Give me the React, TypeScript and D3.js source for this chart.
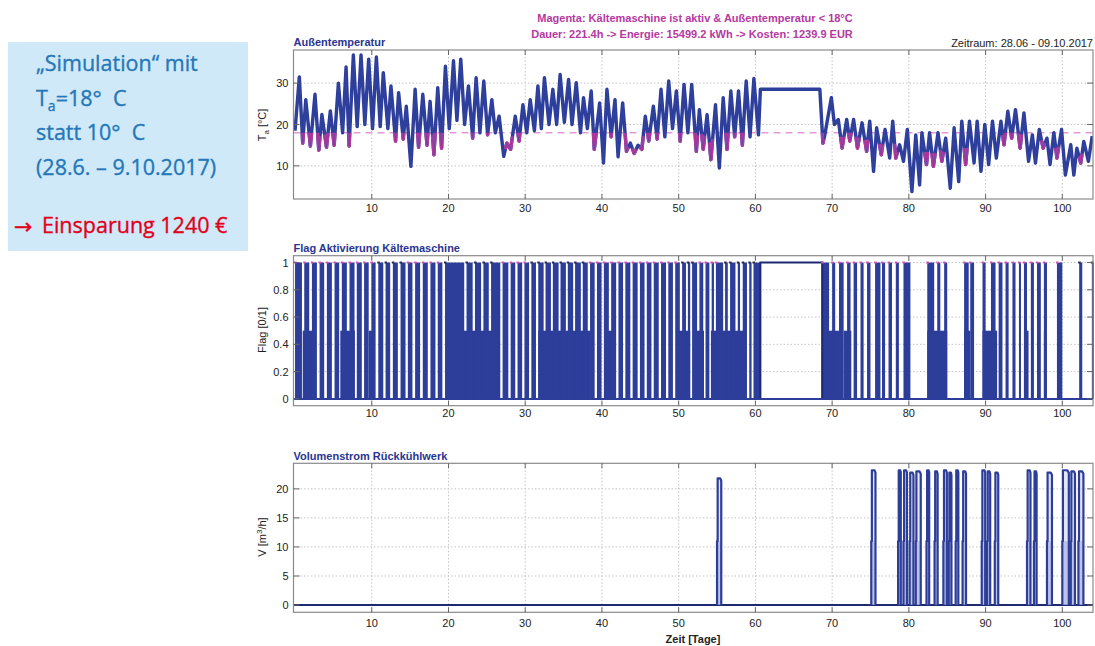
import React from "react";
import * as d3 from "d3";

// ---------- DATA ----------
const tempDays = [
  0.0, 0.56, 1.0, 1.4, 2.0, 2.6, 3.1, 3.5, 4.1, 4.6, 5.1, 5.65, 6.2, 6.65, 7.05, 7.6, 8.1, 8.6, 9.1, 9.6,
  10.1, 10.6, 11.1, 11.5, 12.1, 12.5, 13.1, 13.5, 14.1, 14.5, 15.1, 15.65, 16.1, 16.65, 17.2, 17.6, 18.1, 18.6, 19.1, 19.6,
  20.1, 20.65, 21.1, 21.6, 22.1, 22.6, 23.15, 23.6, 24.1, 24.6, 25.1, 25.65,
  26.1, 26.6, 27.2, 27.6, 28.1, 28.7, 29.2, 29.7, 30.2, 30.65, 31.2, 31.65, 32.1, 32.5, 33.1, 33.6, 34.1, 34.55,
  35.1, 35.65, 36.1, 36.65, 37.2, 37.6, 38.1, 38.6, 39.0, 39.7, 40.2, 40.65, 41.2, 41.7, 42.1, 42.7, 43.2, 43.7,
  44.2, 44.7, 45.2, 45.65, 46.1, 46.7, 47.2, 47.7, 48.2, 48.7, 49.2, 49.7, 50.2, 50.7, 51.2, 51.7,
  52.3, 52.7, 53.2, 53.7, 54.2, 54.8, 55.3, 55.8, 56.3, 56.8, 57.3, 57.8, 58.3, 58.8, 59.3, 59.8, 60.4, 60.65,
  68.4, 68.8, 69.0, 69.9, 70.3, 70.8, 71.3, 71.9, 72.3, 72.8, 73.3, 73.9, 74.5, 74.9, 75.4, 75.8, 76.4, 76.9, 77.5, 77.9,
  78.3, 78.8, 79.3, 79.8, 80.4, 80.9, 81.4, 81.7, 82.3, 82.7, 83.2, 83.8, 84.3, 84.8, 85.4, 85.9, 86.5, 86.9, 87.4, 87.9,
  88.5, 88.9, 89.4, 89.9, 90.4, 90.9, 91.4, 92.0, 92.4, 92.9, 93.4, 93.9, 94.5, 95.0, 95.6, 96.1, 96.5, 97.0, 97.5, 98.0,
  98.4, 98.9, 99.3, 99.9, 100.4, 101.1, 101.5, 101.9, 102.4, 102.8, 103.4, 103.9,
];
const tempVals = [
  18.5, 31.5, 15.5, 26, 14.8, 27.3, 13.8, 22.4, 14.5, 23.3, 15, 30, 18, 33.9, 14.8, 36.8, 19.5, 36.8, 20, 35.8,
  19, 36.3, 19.5, 32.5, 19, 29.3, 16, 27.7, 16.5, 24.4, 9.9, 28.5, 14.5, 27.3, 15, 25.6, 12.7, 28.9, 14.3, 34.1,
  19, 35.4, 21, 35.8, 20, 29.3, 16.7, 31.3, 18, 30.5, 17.5, 26,
  18, 22, 12.3, 15.5, 14, 22, 16, 24.8, 18, 26, 18.5, 29.3, 19, 31.3, 20, 28.5, 20, 32.1,
  20.5, 30.9, 20, 30.1, 18, 26.5, 19, 28.1, 14, 25.2, 10.7, 28.5, 17, 26, 12.2, 25.2, 13.5, 15.5,
  13, 15, 14, 22, 16, 24.4, 16.5, 28.5, 17, 30.5, 19, 28.1, 16, 29.7, 18, 29.7,
  13.5, 23.6, 14, 22.4, 11.5, 24.8, 9.5, 26.5, 14, 28.1, 17, 28.1, 15, 30.5, 17, 31.1, 17.5, 28.5,
  28.5, 15.5, 17, 26.5, 20, 21.2, 14.3, 21.2, 16, 21.2, 14.3, 20.4, 13.5, 20.8, 8.7, 19.2, 12.7, 18.8, 11.9, 20.8,
  11.9, 15.1, 11.1, 18.8, 3.8, 17.5, 5.4, 18, 10.3, 18, 9.9, 18, 11.1, 16.7, 4.6, 19.2, 6.2, 20.8, 10.3, 20.8,
  10.7, 20.8, 8.7, 20, 10.3, 20.8, 11.9, 20.8, 15.1, 23.2, 16.7, 23.6, 14.3, 22.8, 11.1, 17.5, 10.7, 18.8, 14.3, 16.7,
  10.3, 18, 11.9, 18.8, 7.8, 15.1, 7.8, 14.3, 10.7, 15.9, 11.1, 17.2,
];
const magentaTroughDays = [
  1.0, 2.0, 3.1, 4.1, 5.1, 7.05, 13.1, 14.1, 16.1, 17.2, 18.1, 19.1, 23.15, 25.1, 27.6, 28.1, 29.2,
  39.0, 41.2, 43.2, 44.2, 45.2, 46.1, 47.2, 50.2, 52.3, 53.2, 54.2, 56.3, 57.3, 58.3,
  68.8, 71.3, 72.3, 73.3, 74.5, 76.4, 78.3, 82.3, 83.2, 84.3, 87.4, 92.4, 93.4, 94.5, 97.5, 99.3, 102.4,
];
const tempThreshold = 18;

const flagOnStart = [
  0.0, 1.2, 2.2, 3.2, 4.15, 5.15, 6.1, 7.1, 8.05, 9.0, 9.95, 10.85, 11.8, 12.75, 13.75, 14.7, 15.65, 16.65, 17.65, 18.6,
  19.55, 22.35, 23.45, 24.55, 25.55, 27.05, 28.1, 29.0, 29.9, 30.8, 31.7, 32.65, 33.6, 34.6, 35.55, 36.5, 37.5, 38.45, 39.35,
  40.25, 41.2, 42.15, 43.05, 44.0, 44.95, 45.85, 46.75, 47.7, 48.65, 49.55, 50.45, 51.2, 51.75, 52.7, 53.5, 54.3, 54.85,
  56.05, 56.7, 57.7, 58.35, 59.2, 59.75,
  68.7, 70.0, 70.9, 71.95, 72.8, 73.7, 74.55, 75.6, 76.5, 77.35, 78.3, 79.3, 82.4, 83.7, 84.6, 87.2, 88.0, 89.6, 90.7,
  91.7, 92.6, 93.5, 94.35, 95.0, 95.9, 96.7, 97.6, 99.3, 102.2, 103.85,
];
const flagOnEnd = [
  0.9, 1.85, 2.85, 3.8, 4.8, 5.75, 6.75, 7.75, 8.7, 9.6, 10.5, 11.5, 12.4, 13.4, 14.4, 15.3, 16.3, 17.3, 18.3, 19.2,
  22.05, 23.15, 24.25, 25.25, 26.75, 27.8, 28.7, 29.6, 30.5, 31.4, 32.4, 33.35, 34.35, 35.3, 36.25, 37.25, 38.15, 39.05, 39.95,
  40.9, 41.85, 42.75, 43.7, 44.65, 45.55, 46.45, 47.4, 48.35, 49.25, 50.15, 50.95, 51.5, 52.4, 53.2, 54.0, 54.6, 55.8,
  56.4, 57.4, 58.0, 58.9, 59.5, 60.65,
  69.6, 70.4, 71.5, 72.4, 73.25, 74.1, 75.0, 76.3, 76.9, 77.8, 78.7, 80.2, 83.3, 84.1, 85.0, 87.8, 88.5, 90.0, 91.3,
  92.2, 93.0, 93.9, 94.6, 95.4, 96.3, 97.2, 98.0, 100.0, 102.6, 104.0,
];
const flagHalfStart = [1.0, 5.9, 9.6, 20.2, 31.7, 40.5, 49.8, 51.9, 54.2, 69.4, 71.5, 82.4, 87.2, 89.6, 95.0, 97.6];
const flagHalfEnd = [2.4, 7.8, 10.2, 26.5, 38.5, 41.5, 51.5, 53.3, 58.5, 71.0, 72.5, 85.0, 88.0, 91.5, 95.6, 97.9];
const flagSteadyStart = 60.65;
const flagSteadyEnd = 68.7;
const flagMagentaFrom = [0, 14, 26, 38, 52, 68.5, 82, 87];
const flagMagentaTo = [10, 19.5, 30, 50, 55.5, 80.5, 85.5, 99.5];

const vStart = [55.0, 75.1, 78.6, 79.3, 80.1, 80.9, 82.3, 83.35, 84.5, 85.2, 86.1, 87.0, 89.5, 90.2, 91.2, 95.4, 96.3, 98.0, 100.0, 101.1, 102.1];
const vEnd = [55.6, 75.7, 79.0, 79.8, 80.65, 81.6, 82.7, 83.8, 85.0, 85.6, 86.5, 87.5, 90.0, 90.65, 91.7, 95.9, 96.7, 98.7, 100.9, 101.7, 102.8];
const vPeak = [21.8, 23.2, 23.2, 23.2, 22.8, 23.0, 23.2, 23.0, 23.2, 22.8, 23.2, 23.0, 23.2, 23.0, 22.8, 23.2, 23.0, 22.8, 23.2, 23.0, 23.0];
const vStep = 11;

const xTicks = [10, 20, 30, 40, 50, 60, 70, 80, 90, 100];
const tempTicks = [10, 20, 30];
const flagTicks = [0, 0.2, 0.4, 0.6, 0.8, 1];
const flagTickLabels = ["0", "0.2", "0.4", "0.6", "0.8", "1"];
const vTicks = [0, 5, 10, 15, 20];

// ---------- STYLE ----------
const BLUE = "#2c3d9a";
const MAGENTA = "#b5399f";
const TITLE_BLUE = "#2a3590";
const BOX_BLUE = "#2577b9";
const CHART_FONT = "'Liberation Sans', Arial, sans-serif";
const BOX_FONT = "'Open Sans', 'Noto Sans', sans-serif";

const X0 = 293.5;
const X1 = 1093;
const x = d3.scaleLinear().domain([-0.2, 104]).range([X0, X1]);

const yT = d3.scaleLinear().domain([2, 38]).range([199, 50]);
const yF = d3.scaleLinear().domain([-0.05, 1.05]).range([405.7, 255.7]);
const yV = d3.scaleLinear().domain([-1.25, 24.4]).range([612.3, 463.3]);

function Grid({ y, ticks }: { y: d3.ScaleLinear<number, number>; ticks: number[] }) {
  const [b, t] = y.range();
  return (
    <g>
      <rect x={X0} y={t} width={X1 - X0} height={b - t} fill="#fff" />
      {xTicks.map((v) => (
        <line key={"gx" + v} x1={x(v)} x2={x(v)} y1={t} y2={b} stroke="#c4c4c4" strokeDasharray="1.5 2" />
      ))}
      {ticks.map((v) => (
        <line key={"gy" + v} x1={X0} x2={X1} y1={y(v)} y2={y(v)} stroke="#c4c4c4" strokeDasharray="1.5 2" />
      ))}
    </g>
  );
}

function Axes({ y, ticks, labels, xLabelY }: { y: d3.ScaleLinear<number, number>; ticks: number[]; labels: string[]; xLabelY: number }) {
  const [b, t] = y.range();
  return (
    <g fontFamily={CHART_FONT} fontSize={11} fill="#222">
      <rect x={X0} y={t} width={X1 - X0} height={b - t} fill="none" stroke="#8a8a8a" strokeWidth={1.2} />
      {xTicks.map((v) => (
        <g key={"tx" + v}>
          <line x1={x(v)} x2={x(v)} y1={b} y2={b - 5} stroke="#666" />
          <line x1={x(v)} x2={x(v)} y1={t} y2={t + 5} stroke="#666" />
          <text x={x(v)} y={xLabelY} textAnchor="middle">{v}</text>
        </g>
      ))}
      {ticks.map((v, i) => (
        <g key={"ty" + v}>
          <line x1={X0} x2={X0 + 6} y1={y(v)} y2={y(v)} stroke="#666" />
          <line x1={X1} x2={X1 - 6} y1={y(v)} y2={y(v)} stroke="#666" />
          <text x={X0 - 5} y={y(v) + 4} textAnchor="end">{labels[i]}</text>
        </g>
      ))}
    </g>
  );
}

export default function App() {
  const tempPts: [number, number][] = tempDays.map((d, i) => [d, tempVals[i]]);
  const line = d3.line<[number, number]>().x((d) => x(d[0])).y((d) => yT(d[1]));
  const tempPath = line(tempPts) || "";
  const frac = 0.35;
  const magentaPaths = magentaTroughDays
    .map((d) => tempDays.indexOf(d))
    .filter((i) => i > 0 && i < tempPts.length - 1)
    .map((i) => {
      const p = tempPts[i - 1], c = tempPts[i], n = tempPts[i + 1];
      const a: [number, number] = [c[0] + (p[0] - c[0]) * frac, c[1] + (p[1] - c[1]) * frac];
      const z: [number, number] = [c[0] + (n[0] - c[0]) * frac, c[1] + (n[1] - c[1]) * frac];
      return line([a, c, z]) || "";
    });

  const yTop = yF(1);
  const y0 = yF(0);
  const yHalf = yF(0.5);

  const vLine = d3.line<[number, number]>().x((d) => x(d[0])).y((d) => yV(d[1]));
  const pre = { whiteSpace: "pre" as const };

  return (
    <svg width={1095} height={646} style={{ position: "absolute", left: 0, top: 0, display: "block" }}>
      <rect width={1095} height={646} fill="#fff" />
      <defs>
        <clipPath id="below18">
          <rect x={X0} y={yT(tempThreshold)} width={X1 - X0} height={199 - yT(tempThreshold)} />
        </clipPath>
        <clipPath id="p1">
          <rect x={X0} y={50} width={X1 - X0} height={149} />
        </clipPath>
      </defs>

      {/* Left info box */}
      <rect x={8} y={42} width={240} height={209} fill="#cfe9f8" />
      <g fontFamily={BOX_FONT} fontSize={21.5} fill={BOX_BLUE} stroke={BOX_BLUE} strokeWidth={0.35}>
        <text x={36} y={71} style={pre}>„Simulation“ mit</text>
        <text x={36} y={106} style={pre}>
          T<tspan fontSize={14} dy={5}>a</tspan>
          <tspan dy={-5}>=18°  C</tspan>
        </text>
        <text x={36} y={140} style={pre}>statt 10°  C</text>
        <text x={36} y={175} style={pre}>(28.6. – 9.10.2017)</text>
        <text x={14} y={234} fill="#e2001a" stroke="#e2001a" fontSize={22} fontFamily="'DejaVu Sans', sans-serif">→</text>
        <text x={42} y={233} fill="#e2001a" stroke="#e2001a">Einsparung 1240 €</text>
      </g>

      {/* Header texts */}
      <g fontFamily={CHART_FONT} fontSize={11}>
        <text x={695} y={22} textAnchor="middle" fill={MAGENTA} fontWeight="bold">Magenta: Kältemaschine ist aktiv &amp; Außentemperatur &lt; 18°C</text>
        <text x={692} y={38} textAnchor="middle" fill={MAGENTA} fontWeight="bold">Dauer: 221.4h -&gt; Energie: 15499.2 kWh -&gt; Kosten: 1239.9 EUR</text>
        <text x={1093} y={47} textAnchor="end" fill="#222">Zeitraum: 28.06 - 09.10.2017</text>
        <text x={X0} y={46} fill={TITLE_BLUE} fontWeight="bold">Außentemperatur</text>
        <text x={X0} y={252} fill={TITLE_BLUE} fontWeight="bold">Flag Aktivierung Kältemaschine</text>
        <text x={X0} y={460} fill={TITLE_BLUE} fontWeight="bold">Volumenstrom Rückkühlwerk</text>
        <text x={693} y={643} textAnchor="middle" fill="#222" fontWeight="bold">Zeit [Tage]</text>
      </g>

      {/* Y axis labels */}
      <g fontFamily={CHART_FONT} fontSize={11} fill="#222">
        <text transform="translate(266,125) rotate(-90)" textAnchor="middle">
          T<tspan fontSize={8} dy={3}>a</tspan><tspan dy={-3}> [°C]</tspan>
        </text>
        <text transform="translate(266,330) rotate(-90)" textAnchor="middle">Flag [0/1]</text>
        <text transform="translate(266,537) rotate(-90)" textAnchor="middle">
          V [m<tspan fontSize={8} dy={-4}>3</tspan><tspan dy={4}>/h]</tspan>
        </text>
      </g>

      {/* Panel 1: temperature */}
      <Grid y={yT} ticks={tempTicks} />
      <line x1={X0} x2={X1} y1={yT(tempThreshold)} y2={yT(tempThreshold)} stroke="#e49ad8" strokeWidth={1.5} strokeDasharray="7 5" />
      <g clipPath="url(#p1)">
        <path d={tempPath} fill="none" stroke={BLUE} strokeWidth={3.4} strokeLinejoin="round" />
        <g clipPath="url(#below18)">
          {magentaPaths.map((p, i) => (
            <path key={i} d={p} fill="none" stroke={MAGENTA} strokeWidth={3.4} strokeLinejoin="round" strokeLinecap="round" />
          ))}
        </g>
        <path d={tempPath} fill="none" stroke="#3a4aa8" strokeWidth={1} strokeLinejoin="round" opacity={0.4} />
      </g>
      <Axes y={yT} ticks={tempTicks} labels={tempTicks.map(String)} xLabelY={212} />

      {/* Panel 2: flag */}
      <Grid y={yF} ticks={flagTicks} />
      <g>
        {flagHalfStart.map((s, i) => (
          <rect key={"h" + i} x={x(s)} y={yHalf} width={x(flagHalfEnd[i]) - x(s)} height={y0 - yHalf} fill={BLUE} />
        ))}
        {flagOnStart.map((s, i) => (
          <rect key={"o" + i} x={x(s)} y={yTop} width={Math.max(2, x(flagOnEnd[i]) - x(s))} height={y0 - yTop} fill={BLUE} />
        ))}
        <polyline
          points={`${x(flagSteadyStart)},${y0} ${x(flagSteadyStart)},${yTop} ${x(flagSteadyEnd)},${yTop} ${x(flagSteadyEnd)},${y0}`}
          fill="none" stroke="#1e2a70" strokeWidth={2}
        />
        <line x1={X0} x2={X1} y1={y0} y2={y0} stroke={BLUE} strokeWidth={2} />
        {flagOnStart.map((s, i) => {
          const inMag = flagMagentaFrom.some((f, k) => s >= f && s <= flagMagentaTo[k]);
          return (
            <rect key={"m" + i} x={x(s) - 1} y={yTop - 1} width={2.5} height={2} fill={inMag ? "#d04fb8" : "#2a2a50"} />
          );
        })}
      </g>
      <Axes y={yF} ticks={flagTicks} labels={flagTickLabels} xLabelY={417} />

      {/* Panel 3: volume flow */}
      <Grid y={yV} ticks={vTicks} />
      <line x1={X0} x2={X1} y1={yV(0)} y2={yV(0)} stroke="#1e2a70" strokeWidth={2} />
      {vStart.map((s, i) => {
        const e = vEnd[i];
        const pts: [number, number][] = [
          [s, 0], [s, vStep], [s + 0.08, vStep], [s + 0.08, vPeak[i]], [s + (e - s) * 0.7, vPeak[i]], [e - 0.05, vPeak[i] - 0.4], [e - 0.05, 0],
        ];
        return (
          <g key={"v" + i}>
            <rect x={x(s)} y={yV(vStep)} width={x(e) - x(s)} height={yV(0) - yV(vStep)} fill="#7f88c8" opacity={0.6} />
            <path d={vLine(pts) || ""} fill="#c9cdea" fillOpacity={0.5} stroke={BLUE} strokeWidth={2.2} strokeLinejoin="round" />
          </g>
        );
      })}
      <Axes y={yV} ticks={vTicks} labels={vTicks.map(String)} xLabelY={627} />
    </svg>
  );
}
